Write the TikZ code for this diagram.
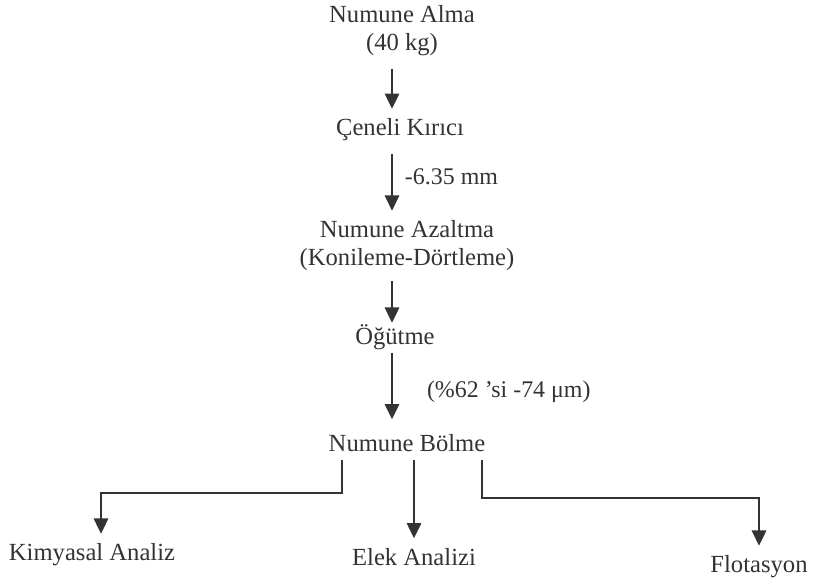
\documentclass[tikz,border=0pt]{standalone}
\usepackage{fontspec}
\setmainfont{Liberation Serif}
\usetikzlibrary{arrows.meta,positioning,calc}
\definecolor{ink}{HTML}{333333}

\begin{document}
\begin{tikzpicture}[
    x=0.025cm, y=-0.025cm,
    font=\fontsize{17.5}{20}\selectfont,
    stepname/.style={align=center, inner sep=0pt, text=ink},
    note/.style={inner sep=0pt, text=ink, font=\fontsize{17}{20}\selectfont},
    arrow/.style={-{Triangle[length=3.8mm,width=3.6mm]}, line width=1.4pt, draw=ink, shorten <=9pt, shorten >=7pt}
]
\useasboundingbox (0,0) rectangle (813,580);
\coordinate (axis) at (392,0);

\node[stepname] (alma) at (402,31) {Numune Alma\\(40 kg)};
\node[stepname] (kirici) at (400,130) {Çeneli Kırıcı};
\node[stepname] (azaltma) at (407,246) {Numune Azaltma\\(Konileme-Dörtleme)};
\node[stepname] (ogutme) at (395,337) {Öğütme};
\node[stepname] (bolme) at (407,443) {Numune Bölme};
\node[stepname] (kimyasal) at (92,555) {Kimyasal Analiz};
\node[stepname] (elek) at (414,557) {Elek Analizi};
\node[stepname] (flotasyon) at (759,567) {Flotasyon};

% bends of the side branches
\coordinate (lbend) at (101,493);
\coordinate (rbend) at (759,498);

\draw[arrow] (alma.south -| axis) -- (kirici.north -| axis);
\draw[arrow] (kirici.south -| axis) -- node[note, right=0.3cm, pos=0.45] {-6.35 mm} (azaltma.north -| axis);
\draw[arrow, shorten <=7pt, shorten >=1pt] (azaltma.south -| axis) -- (ogutme.north -| axis);
\draw[arrow, shorten <=2pt, shorten >=10.5pt] (ogutme.south -| axis) -- node[note, right=0.85cm] {(\%62 ’si -74 μm)} (bolme.north -| axis);

\draw[arrow, shorten <=6pt] ([xshift=-1.625cm]bolme.south) |- (lbend) -- (kimyasal.north -| lbend);
\draw[arrow, shorten <=6pt] (bolme.south -| elek.north) -- (elek.north);
\draw[arrow, shorten <=6pt] ([xshift=1.875cm]bolme.south) |- (rbend) -- (flotasyon.north);
\end{tikzpicture}
\end{document}
